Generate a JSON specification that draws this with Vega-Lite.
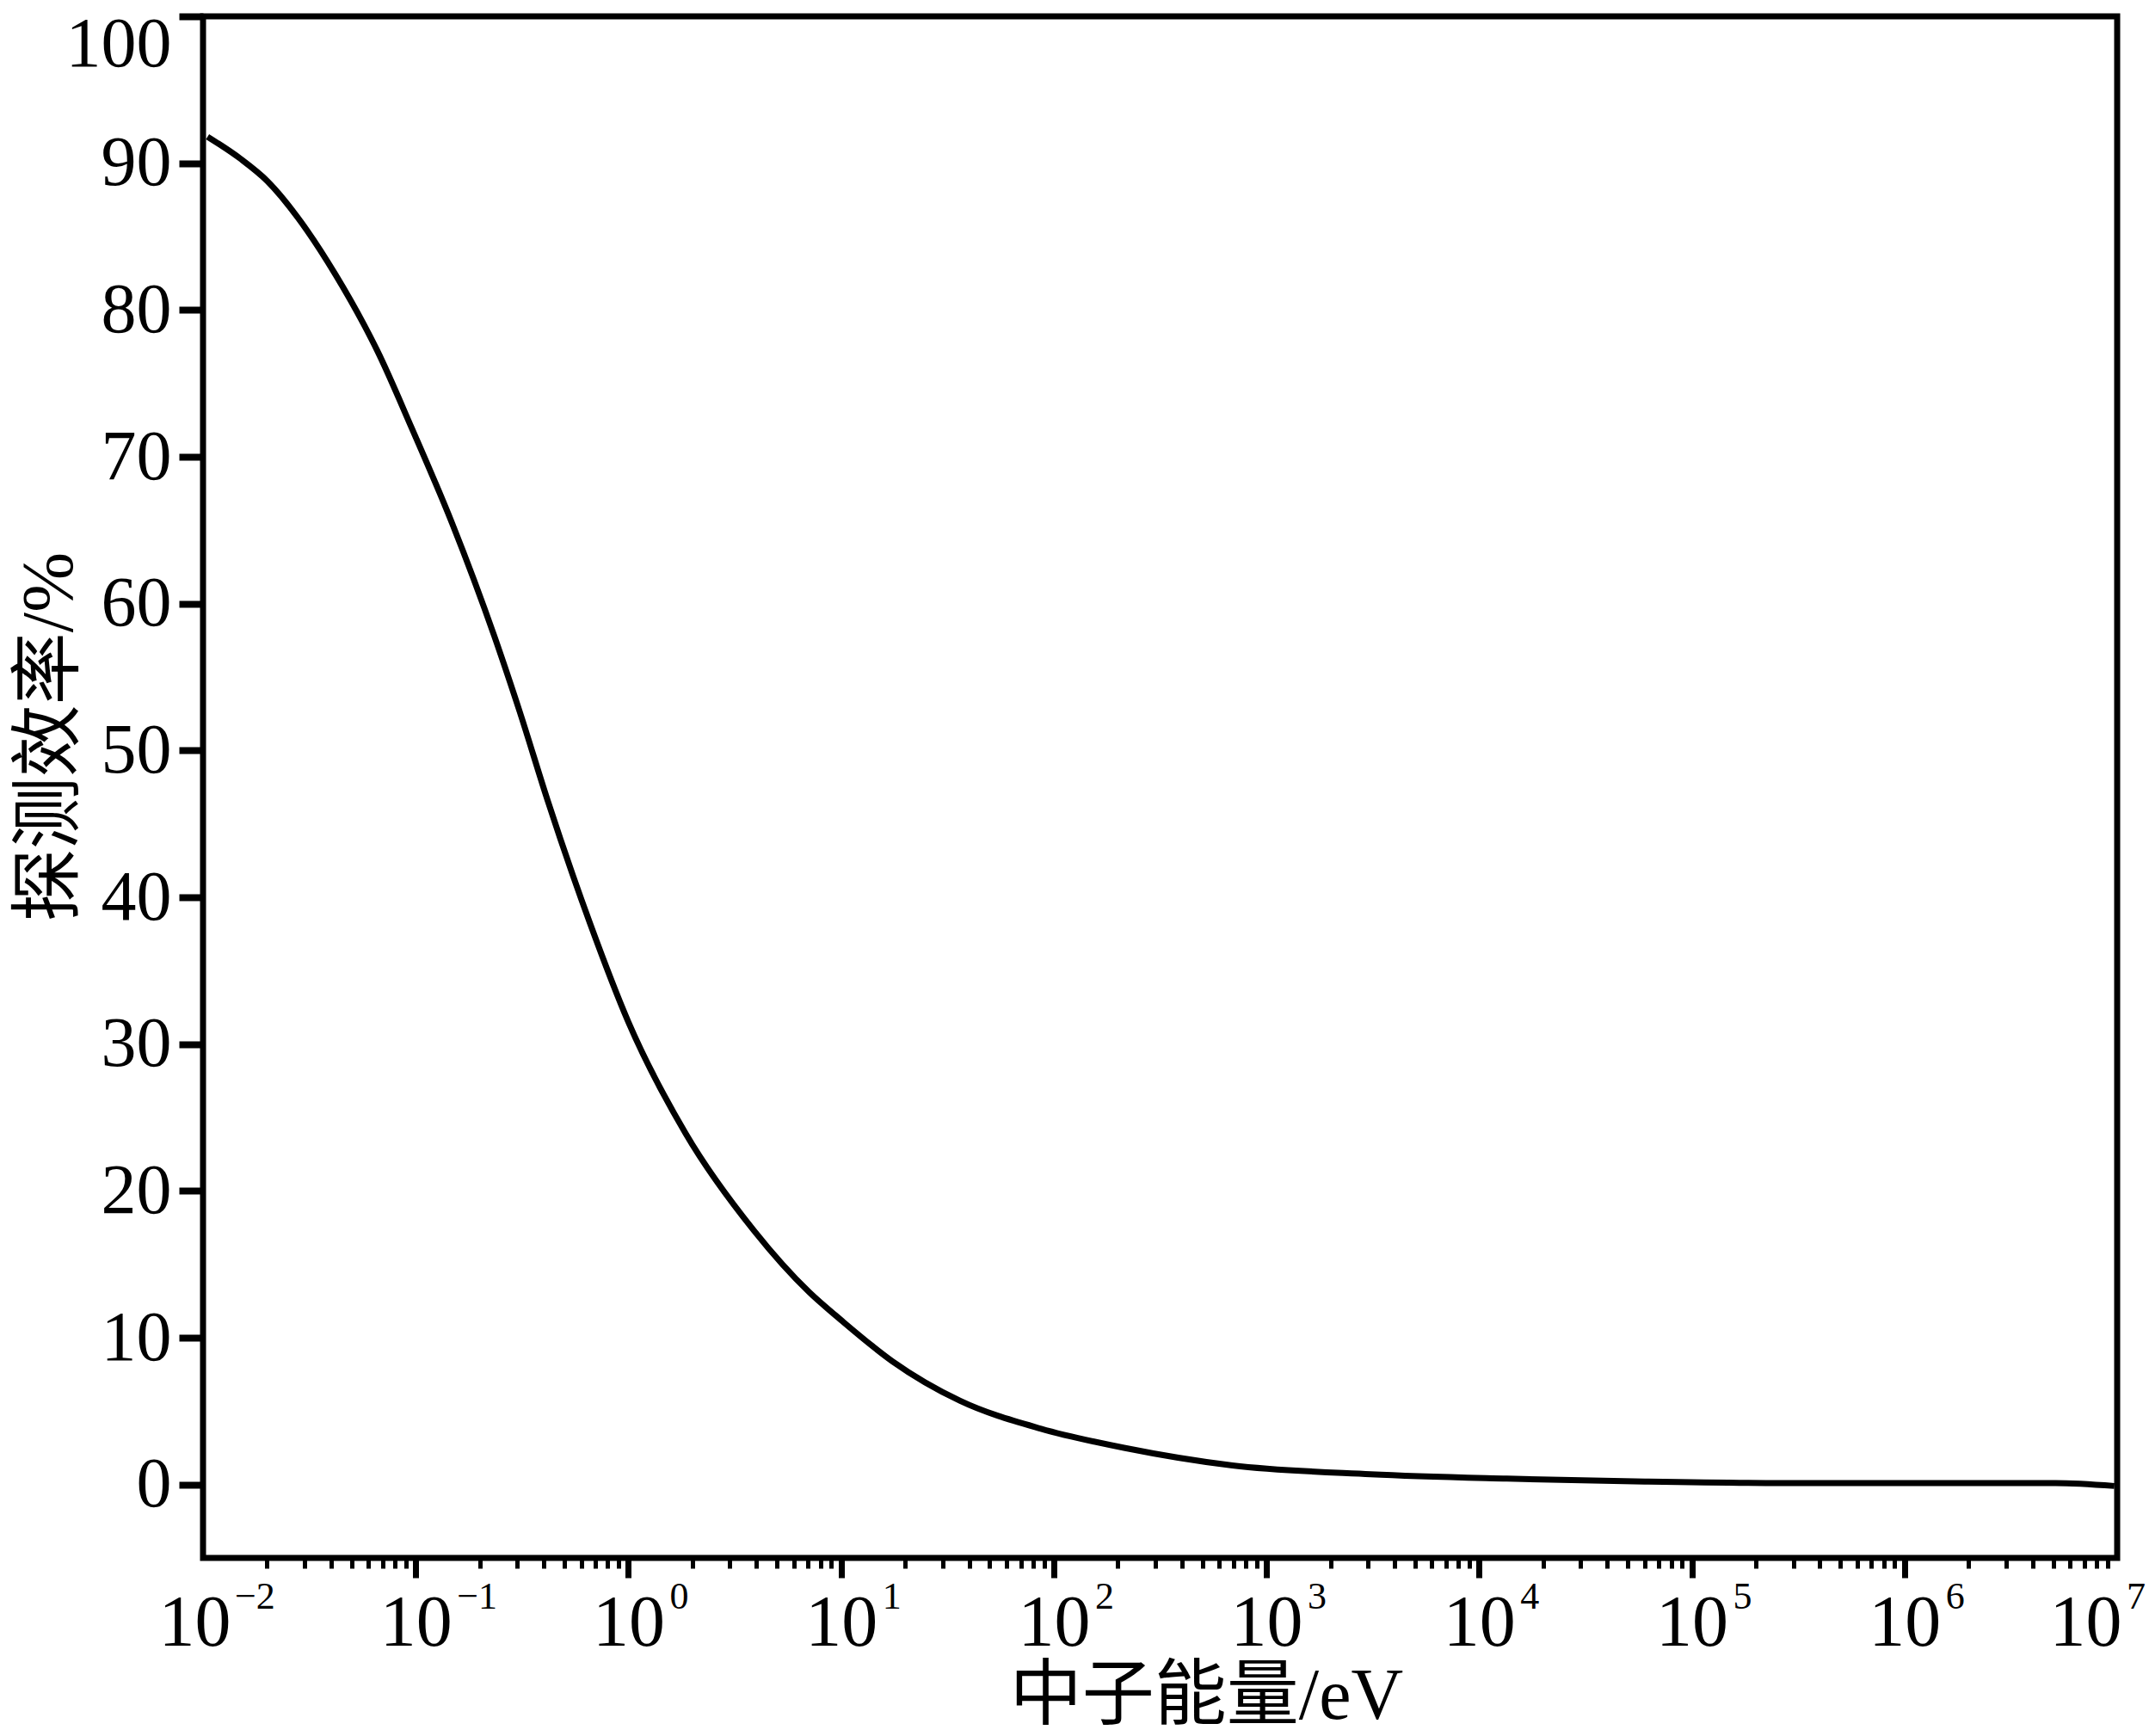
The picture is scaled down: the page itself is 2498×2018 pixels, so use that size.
{
  "$schema": "https://vega.github.io/schema/vega-lite/v6.json",
  "width": 2225,
  "height": 1792,
  "autosize": {"type": "none"},
  "padding": {"left": 236, "top": 19, "right": 37, "bottom": 207},
  "background": "white",
  "config": {
    "view": {"stroke": "black", "strokeWidth": 7},
    "font": "Liberation Serif"
  },
  "datasets": {
    "curve": [
      {"E": 0.0105, "eff": 91.8},
      {"E": 0.015, "eff": 90.3},
      {"E": 0.02, "eff": 88.8},
      {"E": 0.0309, "eff": 85.4},
      {"E": 0.042, "eff": 82.4},
      {"E": 0.0571, "eff": 79.0},
      {"E": 0.0661, "eff": 77.2},
      {"E": 0.0955, "eff": 72.0},
      {"E": 0.148, "eff": 65.5},
      {"E": 0.234, "eff": 57.8},
      {"E": 0.309, "eff": 52.6},
      {"E": 0.417, "eff": 46.6},
      {"E": 0.661, "eff": 38.2},
      {"E": 1.0, "eff": 31.5},
      {"E": 1.86, "eff": 23.9},
      {"E": 3.89, "eff": 17.3},
      {"E": 7.08, "eff": 13.1},
      {"E": 10, "eff": 11.2},
      {"E": 17.4, "eff": 8.4},
      {"E": 36.3, "eff": 5.7},
      {"E": 87.1, "eff": 3.8},
      {"E": 214, "eff": 2.5},
      {"E": 692, "eff": 1.3},
      {"E": 3090, "eff": 0.7},
      {"E": 13490, "eff": 0.4},
      {"E": 60256, "eff": 0.2},
      {"E": 263027, "eff": 0.1},
      {"E": 1174898, "eff": 0.1},
      {"E": 5128614, "eff": 0.1},
      {"E": 9700000, "eff": -0.1}
    ],
    "exps": [
      {"E": 0.1, "exp": "−1"},
      {"E": 1, "exp": "0"},
      {"E": 10, "exp": "1"},
      {"E": 100, "exp": "2"},
      {"E": 1000, "exp": "3"},
      {"E": 10000, "exp": "4"},
      {"E": 100000, "exp": "5"},
      {"E": 1000000, "exp": "6"}
    ],
    "expFirst": [{"E": 0.01, "exp": "−2"}],
    "expLast": [{"E": 10000000, "exp": "7"}]
  },
  "layer": [
    {
      "data": {"name": "curve"},
      "mark": {"type": "line", "color": "black", "strokeWidth": 7, "interpolate": "monotone"},
      "encoding": {
        "x": {
          "field": "E",
          "type": "quantitative",
          "scale": {"type": "log", "domain": [0.01, 10000000], "nice": false},
          "axis": {
            "values": [0.01,0.02,0.03,0.04,0.05,0.06,0.07,0.08,0.09,
                       0.1,0.2,0.3,0.4,0.5,0.6,0.7,0.8,0.9,
                       1,2,3,4,5,6,7,8,9,
                       10,20,30,40,50,60,70,80,90,
                       100,200,300,400,500,600,700,800,900,
                       1000,2000,3000,4000,5000,6000,7000,8000,9000,
                       10000,20000,30000,40000,50000,60000,70000,80000,90000,
                       100000,200000,300000,400000,500000,600000,700000,800000,900000,
                       1000000,2000000,3000000,4000000,5000000,6000000,7000000,8000000,9000000,
                       10000000],
            "labelExpr": "abs(log(datum.value)/LN10 - round(log(datum.value)/LN10)) < 0.001 ? '10' : ''",
            "tickSize": {"condition": {"test": "abs(log(datum.value)/LN10 - round(log(datum.value)/LN10)) > 0.001", "value": 12}, "value": 23},
            "tickWidth": {"condition": {"test": "abs(log(datum.value)/LN10 - round(log(datum.value)/LN10)) > 0.001", "value": 5}, "value": 7},
            "tickOpacity": {"condition": {"test": "datum.value < 0.011 || datum.value > 9500000", "value": 0}, "value": 1},
            "labelOffset": {"condition": [
              {"test": "datum.value < 0.011", "value": -10},
              {"test": "datum.value > 9500000", "value": -37}
            ], "value": 0},
            "tickColor": "black",
            "domain": false,
            "grid": false,
            "labelOverlap": false,
            "labelFlush": false,
            "labelBound": false,
            "labelFontSize": 84,
            "labelFont": "Liberation Serif",
            "labelColor": "black",
            "labelPadding": 12,
            "title": "中子能量/eV",
            "titleFont": "Liberation Serif, Noto Sans CJK SC",
            "titleFontSize": 84,
            "titleFontWeight": "normal",
            "titleColor": "black",
            "titleX": 1166,
            "titleY": 186,
            "titleAlign": "center",
            "titleBaseline": "alphabetic"
          }
        },
        "y": {
          "field": "eff",
          "type": "quantitative",
          "scale": {"domain": [-5, 100], "nice": false, "zero": false},
          "axis": {
            "values": [0,10,20,30,40,50,60,70,80,90,100],
            "tickSize": 28,
            "tickWidth": 8,
            "tickColor": "black",
            "domain": false,
            "grid": false,
            "labelFontSize": 82,
            "labelFont": "Liberation Serif",
            "labelColor": "black",
            "labelPadding": 9,
            "labelBaseline": {"condition": {"test": "datum.value == 100", "value": "top"}, "value": "middle"},
            "labelOffset": {"condition": {"test": "datum.value == 100", "value": -8}, "value": 0},
            "title": "探测效率/%",
            "titleFont": "Liberation Serif, Noto Sans CJK SC",
            "titleFontSize": 84,
            "titleFontWeight": "normal",
            "titleColor": "black",
            "titleAngle": 270,
            "titleX": -153,
            "titleY": 837,
            "titleAlign": "center",
            "titleBaseline": "alphabetic"
          }
        }
      }
    },
    {
      "data": {"name": "exps"},
      "mark": {"type": "text", "baseline": "alphabetic", "align": "left", "dx": 48, "dy": 59, "fontSize": 44, "font": "Liberation Serif", "color": "black"},
      "encoding": {
        "x": {"field": "E", "type": "quantitative"},
        "y": {"datum": -5, "type": "quantitative"},
        "text": {"field": "exp"}
      }
    },
    {
      "data": {"name": "expFirst"},
      "mark": {"type": "text", "baseline": "alphabetic", "align": "left", "dx": 37, "dy": 59, "fontSize": 44, "font": "Liberation Serif", "color": "black"},
      "encoding": {
        "x": {"field": "E", "type": "quantitative"},
        "y": {"datum": -5, "type": "quantitative"},
        "text": {"field": "exp"}
      }
    },
    {
      "data": {"name": "expLast"},
      "mark": {"type": "text", "baseline": "alphabetic", "align": "left", "dx": 11, "dy": 59, "fontSize": 44, "font": "Liberation Serif", "color": "black"},
      "encoding": {
        "x": {"field": "E", "type": "quantitative"},
        "y": {"datum": -5, "type": "quantitative"},
        "text": {"field": "exp"}
      }
    }
  ]
}
